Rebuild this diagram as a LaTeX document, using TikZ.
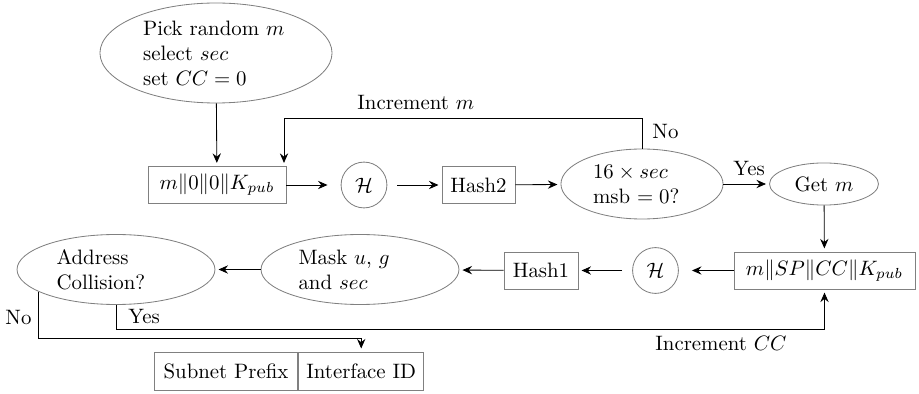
\documentclass[tikz,border=0pt]{standalone}
\usetikzlibrary{shapes.geometric,arrows.meta}
\begin{document}
\begin{tikzpicture}[x=0.48pt,y=-0.48pt,
 ell/.style={ellipse,draw=gray,inner sep=0pt,align=left},
 box/.style={rectangle,draw=gray,minimum height=17.8pt,inner sep=2pt},
 hc/.style={circle,draw=gray,minimum size=22pt,inner sep=0pt,outer sep=5pt},
 arr/.style={line width=0.4pt,-{Stealth[length=4.6pt,width=4pt,inset=1.6pt]},shorten >=1.5pt},
 lab/.style={inner sep=0pt,anchor=base west}]
\useasboundingbox (0,0) rectangle (919,394);
% top row
\node[ell,minimum width=111.4pt,minimum height=48pt,text width=70pt] (e1) at (216,53) {Pick random $m$\\select $sec$\\set $CC=0$};
\node[box,minimum width=66.2pt] (b1) at (217,185) {$m\|0\|0\|K_{pub}$};
\node[hc] (h1) at (364,185) {$\mathcal{H}$};
\node[box,minimum width=35pt] (hash2) at (478.5,185) {Hash2};
\node[ell,minimum width=77.8pt,minimum height=33.6pt,text width=47pt] (e2) at (642,184) {$16\times sec$\\msb $=0$?};
\node[ell,minimum width=52.3pt,minimum height=20.2pt] (e3) at (824,184) {Get $m$};
% bottom row
\node[box,minimum width=86.9pt] (b3) at (824.5,270.5) {$m\|SP\|CC\|K_{pub}$};
\node[hc] (h2) at (655.5,270.5) {$\mathcal{H}$};
\node[box,minimum width=35.5pt] (hash1) at (541,270.5) {Hash1};
\node[ell,minimum width=95pt,minimum height=33.6pt,text width=59pt] (mask) at (360,269.5) {Mask $u$, $g$\\and $sec$};
\node[ell,minimum width=95pt,minimum height=33.6pt,text width=57pt] (addr) at (116,269.5) {Address\\Collision?};
% address cells
\node[box,minimum width=69pt,minimum height=18.2pt] (sp) at (226,371) {Subnet Prefix};
\node[box,minimum width=60pt,minimum height=18.2pt,anchor=west] (iid) at (sp.east) {Interface ID};
% connectors
\draw[arr] (e1) -- (b1);
\draw[arr] (b1) -- (h1);
\draw[arr] (h1) -- (hash2);
\draw[arr] (hash2) -- (e2);
\draw[arr] (e2) -- (e3);
\draw[arr] (e3) -- (b3);
\draw[arr] (b3) -- (h2);
\draw[arr] (h2) -- (hash1);
\draw[arr] (hash1) -- (mask);
\draw[arr] (mask) -- (addr);
\coordinate (ctop) at (284,118);
\draw[arr] (e2.north) |- (ctop) -- (ctop |- b1.north);
\coordinate (yyes) at (0,329);
\draw[arr] (addr.south) -- (addr.south |- yyes) -| (b3.south);
\coordinate (yno) at (0,338);
\draw[arr] (addr.196) -- (addr.196 |- yno) -| (iid.north);
% labels
\node[lab] (lincm) at (357,110) {Increment $m$};
\node[lab] (lno1) at (652,139) {No};
\node[lab] (lyes1) at (733,176) {Yes};
\node[lab] (lno2) at (5,325) {No};
\node[lab] (lyes2) at (128,324) {Yes};
\node[lab] (linccc) at (655,351) {Increment $CC$};
\end{tikzpicture}
\end{document}
